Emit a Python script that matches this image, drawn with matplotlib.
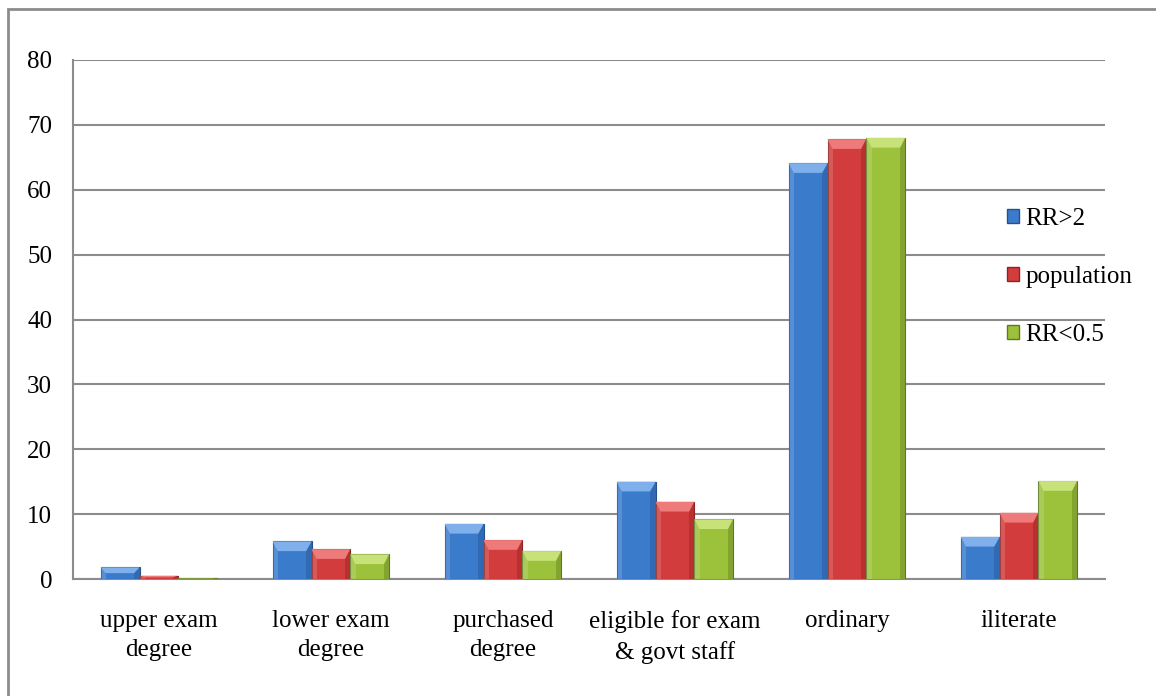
import matplotlib.pyplot as plt
import matplotlib.patches as mpatches
import numpy as np

plt.rcParams['font.family'] = ['Liberation Serif', 'DejaVu Serif']

# --- data ---
categories = ['upper exam\ndegree', 'lower exam\ndegree', 'purchased\ndegree',
              'eligible for exam\n& govt staff', 'ordinary', 'iliterate']
series_names = ['RR>2', 'population', 'RR<0.5']
rr_high = [1.8, 5.8, 8.5, 15.0, 64.1, 6.5]
population = [0.5, 4.6, 6.0, 11.9, 67.8, 10.2]
rr_low = [0.1, 3.8, 4.3, 9.2, 68.0, 15.1]
yticks = [0, 10, 20, 30, 40, 50, 60, 70, 80]

series = [rr_high, population, rr_low]
face = ['#3b7bcc', '#d33c3c', '#9cc23c']
light = ['#7fb0ec', '#ee7a7a', '#c8e27a']
dark = ['#24528f', '#8f2222', '#5f7a1e']

fig = plt.figure(figsize=(11.56, 6.96), dpi=100)
ax = fig.add_axes([73 / 1156, 1 - 579 / 696, (1105 - 73) / 1156, (579 - 60) / 696])

# outer frame of the chart area (right and bottom edges fall off the canvas)
frame = mpatches.Rectangle((8 / 1156, -0.2), 1.2, 1.2 - 9 / 696, transform=fig.transFigure,
                           fill=False, edgecolor='#8c8c8c', linewidth=2.0, zorder=0)
fig.patches.append(frame)

x = np.arange(len(categories))
w = 0.226
bx = 0.03    # bevel width, category units
by = 1.5     # bevel height, value units

for i, vals in enumerate(series):
    pos = x + (i - 1) * w
    ax.bar(pos, vals, width=w, color=face[i], edgecolor=dark[i], linewidth=0.8, zorder=3)
    # bevel on each bar: light top face, darker sides
    for p, v in zip(pos, vals):
        l, r = p - w / 2, p + w / 2
        b = min(by, v / 2)
        ax.add_patch(mpatches.Polygon([[l, v], [r, v], [r - bx, v - b], [l + bx, v - b]],
                                      closed=True, facecolor=light[i], edgecolor='none', zorder=4))
        ax.add_patch(mpatches.Polygon([[r, v], [r, 0], [r - bx, 0], [r - bx, v - b]],
                                      closed=True, facecolor=dark[i], alpha=0.4,
                                      edgecolor='none', zorder=4))
        ax.add_patch(mpatches.Polygon([[l, v], [l, 0], [l + bx, 0], [l + bx, v - b]],
                                      closed=True, facecolor='white', alpha=0.15,
                                      edgecolor='none', zorder=4))

ax.set_xlim(-0.5, len(categories) - 0.5)
ax.set_ylim(0, 80)
ax.set_yticks(yticks)
ax.set_xticks(x)
ax.set_xticklabels(categories, fontsize=18, linespacing=1.45)
ax.tick_params(axis='y', labelsize=18, length=0, pad=15)
ax.tick_params(axis='x', length=0, pad=22)
ax.grid(axis='y', color='#8c8c8c', linewidth=1.5, zorder=1)
ax.set_axisbelow(True)
for s in ['top', 'right']:
    ax.spines[s].set_visible(False)
ax.spines['left'].set_color('#8c8c8c')
ax.spines['bottom'].set_color('#8c8c8c')
ax.spines['left'].set_linewidth(1.5)
ax.spines['bottom'].set_linewidth(1.5)

handles = [mpatches.Patch(facecolor=face[i], edgecolor=dark[i]) for i in range(3)]
leg = ax.legend(handles, series_names, loc='upper left', bbox_to_anchor=(0.895, 0.735),
                frameon=False, fontsize=18, handlelength=0.5, handleheight=0.5,
                handletextpad=0.25, labelspacing=1.45, borderaxespad=0)
leg.set_zorder(5)

plt.savefig('out.png', dpi=100)
